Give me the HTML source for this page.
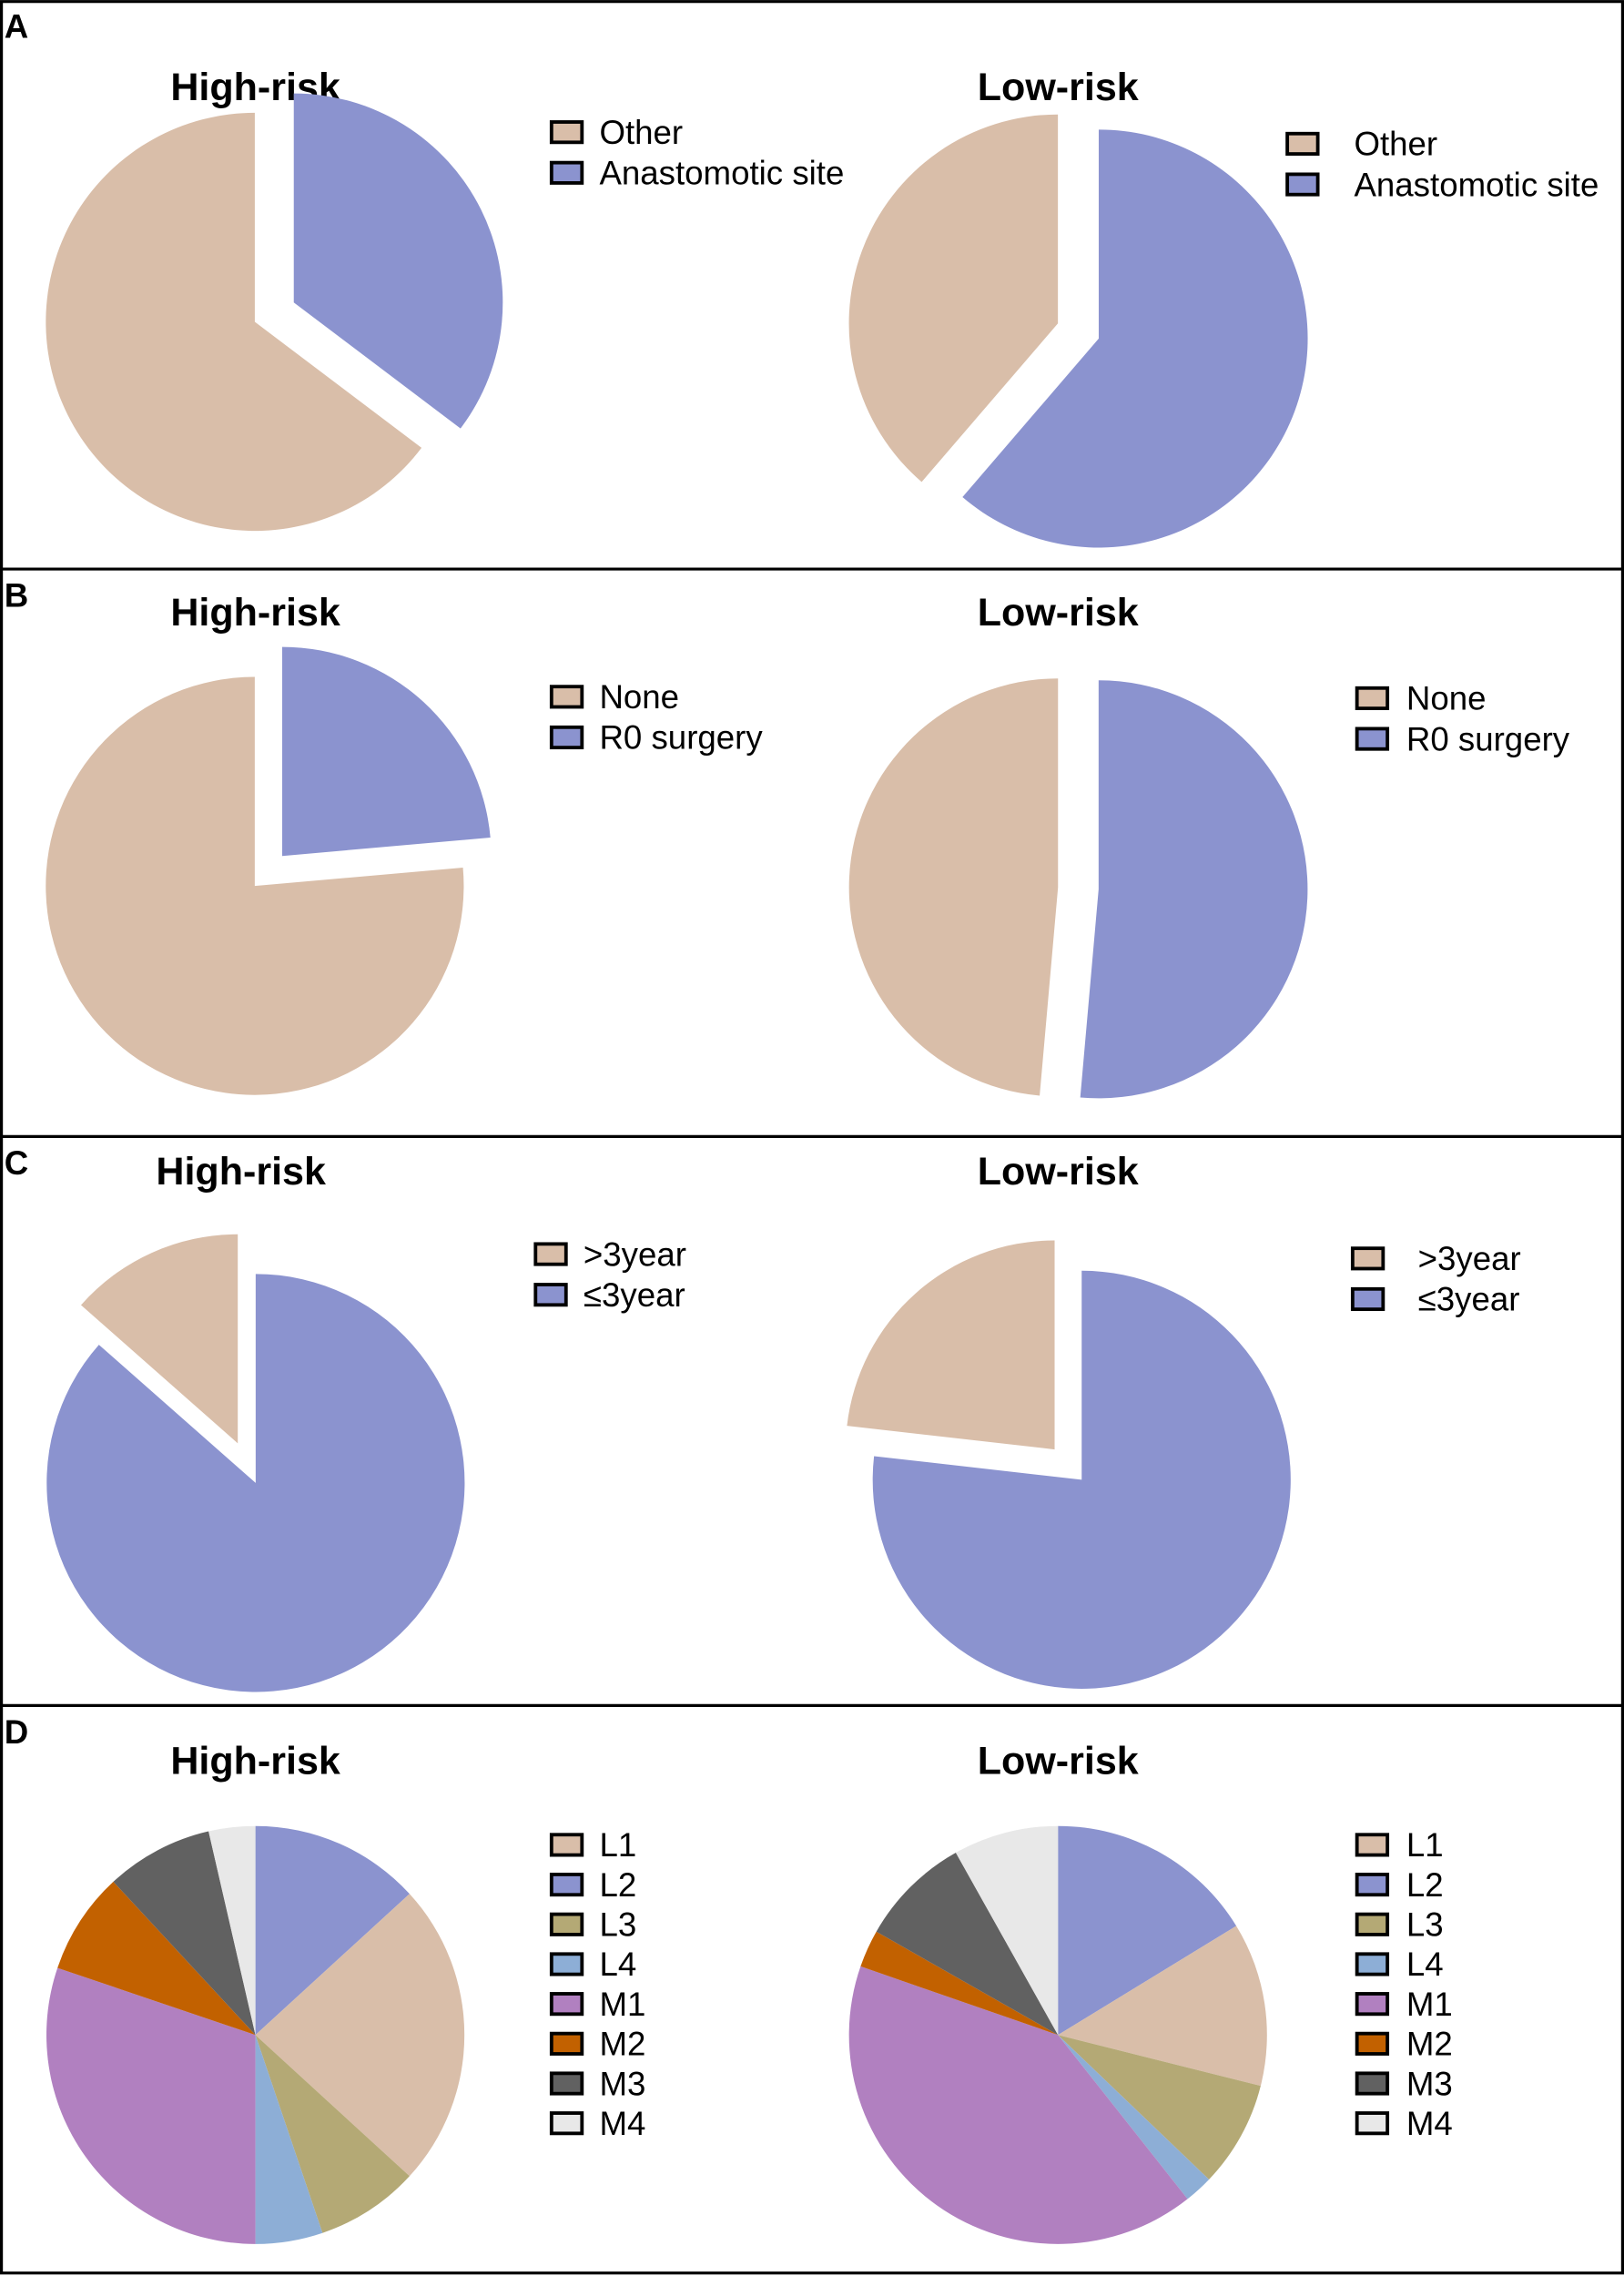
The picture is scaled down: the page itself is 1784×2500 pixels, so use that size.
<!DOCTYPE html>
<html><head><meta charset="utf-8"><style>
html,body{margin:0;padding:0;background:#fff}
svg{display:block}
text{font-family:"Liberation Sans",Arial,sans-serif}
</style></head><body>
<svg id="fig" width="1784" height="2500" viewBox="0 0 1119 1568" xmlns="http://www.w3.org/2000/svg">
<rect x="1" y="1" width="1117" height="1565" fill="#fff" stroke="#000" stroke-width="2"/>
<line x1="0" y1="392" x2="1119" y2="392" stroke="#000" stroke-width="2"/>
<line x1="0" y1="783" x2="1119" y2="783" stroke="#000" stroke-width="2"/>
<line x1="0" y1="1175" x2="1119" y2="1175" stroke="#000" stroke-width="2"/>
<g id="content"></g>
</svg>
<script>
// Pie data (percent shares, clockwise from 12 o'clock)
const catsAB = ["Other", "Anastomotic site"];
const catsB = ["None", "R0 surgery"];
const catsC = [">3year", "≤3year"];
const catsD = ["L1","L2","L3","L4","M1","M2","M3","M4"];
const orderA = [1, 0];
const orderB = [1, 0];
const orderC = [1, 0];
const orderD = [1, 0, 2, 3, 4, 5, 6, 7];
const valsAHigh = [64.7, 35.3];
const valsALow = [38.7, 61.3];
const valsBHigh = [76.4, 23.6];
const valsBLow = [48.6, 51.4];
const valsCHigh = [13.5, 86.5];
const valsCLow = [23.2, 76.8];
const valsDHigh = [23.6, 13.2, 8.0, 5.2, 30.2, 7.9, 8.3, 3.6];
const valsDLow = [12.6, 16.2, 8.2, 2.2, 40.8, 2.9, 8.6, 8.1];

const colors = {"Other":"#D9BEA9","Anastomotic site":"#8B93CF","None":"#D9BEA9","R0 surgery":"#8B93CF",">3year":"#D9BEA9","≤3year":"#8B93CF",
 "L1":"#D9BEA9","L2":"#8B93CF","L3":"#B4A975","L4":"#8DAED6","M1":"#B180C0","M2":"#C26100","M3":"#616161","M4":"#E8E8E8"};

const NS = "http://www.w3.org/2000/svg";
const root = document.getElementById("content");
function el(tag, attrs, parent){const e=document.createElementNS(NS,tag);for(const k in attrs)e.setAttribute(k,attrs[k]);(parent||root).appendChild(e);return e;}

function pie(name, cx, cy, r, cats, order, vals, explode){
  const g = el("g", {});
  
  
  const total = vals.reduce((a,b)=>a+b,0);
  let a0 = 0;
  order.forEach(i=>{
    const frac = vals[i]/total;
    const a1 = a0 + frac*2*Math.PI;
    const mid = (a0+a1)/2;
    const ex = explode ? explode : 0;
    const ox = cx + ex*Math.sin(mid), oy = cy - ex*Math.cos(mid);
    const x0 = ox + r*Math.sin(a0), y0 = oy - r*Math.cos(a0);
    const x1 = ox + r*Math.sin(a1), y1 = oy - r*Math.cos(a1);
    const large = (a1-a0) > Math.PI ? 1 : 0;
    const p = el("path", {d:`M${ox},${oy} L${x0},${y0} A${r},${r} 0 ${large} 1 ${x1},${y1} Z`, fill: colors[cats[i]]}, g);
    
    
    a0 = a1;
  });
}

function legend(name, x, y, cats, step, tdx){
  const g = el("g", {});
  
  
  cats.forEach((c,k)=>{
    const yy = y + k*step;
    const s = el("rect", {x:x, y:yy, width:21, height:14, fill:colors[c], stroke:"#000", "stroke-width":2.4}, g);
    
    
    const t = el("text", {x:x+tdx, y:yy+15, "font-size":23, fill:"#000"}, g);
    t.textContent = c;
    
    
  });
}
function title(x, y, txt, name, size, anchor){
  const t = el("text", {x:x, y:y, "font-size":size, "font-weight":"bold", "text-anchor":anchor||"middle"});
  t.textContent = txt;
  
  
}

title(3, 26, "A", "panel-label-a", 23, "start");
title(3, 418, "B", "panel-label-b", 23, "start");
title(3, 809, "C", "panel-label-c", 23, "start");
title(3, 1201, "D", "panel-label-d", 23, "start");
title(176, 69, "High-risk", "title-a-high", 27);
title(729, 69, "Low-risk", "title-a-low", 27);
title(176, 431, "High-risk", "title-b-high", 27);
title(729, 431, "Low-risk", "title-b-low", 27);
title(166, 816, "High-risk", "title-c-high", 27);
title(729, 816, "Low-risk", "title-c-low", 27);
title(176, 1222, "High-risk", "title-d-high", 27);
title(729, 1222, "Low-risk", "title-d-low", 27);

pie("pie-a-high", 189, 215, 144, catsAB, orderA, valsAHigh, 15);
pie("pie-a-low", 743, 228, 144, catsAB, orderA, valsALow, 15);
legend("legend-a-high", 380, 84, catsAB, 28, 33);
legend("legend-a-low", 887, 92, catsAB, 28, 46);
pie("pie-b-high", 185, 600, 144, catsB, orderB, valsBHigh, 14);
pie("pie-b-low", 743, 612, 144, catsB, orderB, valsBLow, 14);
legend("legend-b-high", 380, 473, catsB, 28, 33);
legend("legend-b-low", 935, 474, catsB, 28, 34);
pie("pie-c-high", 170, 1008, 144, catsC, orderC, valsCHigh, 15);
pie("pie-c-low", 736, 1009, 144, catsC, orderC, valsCLow, 14);
legend("legend-c-high", 369, 857, catsC, 28, 33);
legend("legend-c-low", 932, 860, catsC, 28, 45);
pie("pie-d-high", 176, 1402, 144, catsD, orderD, valsDHigh, 0);
pie("pie-d-low", 729, 1402, 144, catsD, orderD, valsDLow, 0);
legend("legend-d-high", 380, 1264, catsD, 27.4, 33);
legend("legend-d-low", 935, 1264, catsD, 27.4, 34);
</script>
</body></html>
